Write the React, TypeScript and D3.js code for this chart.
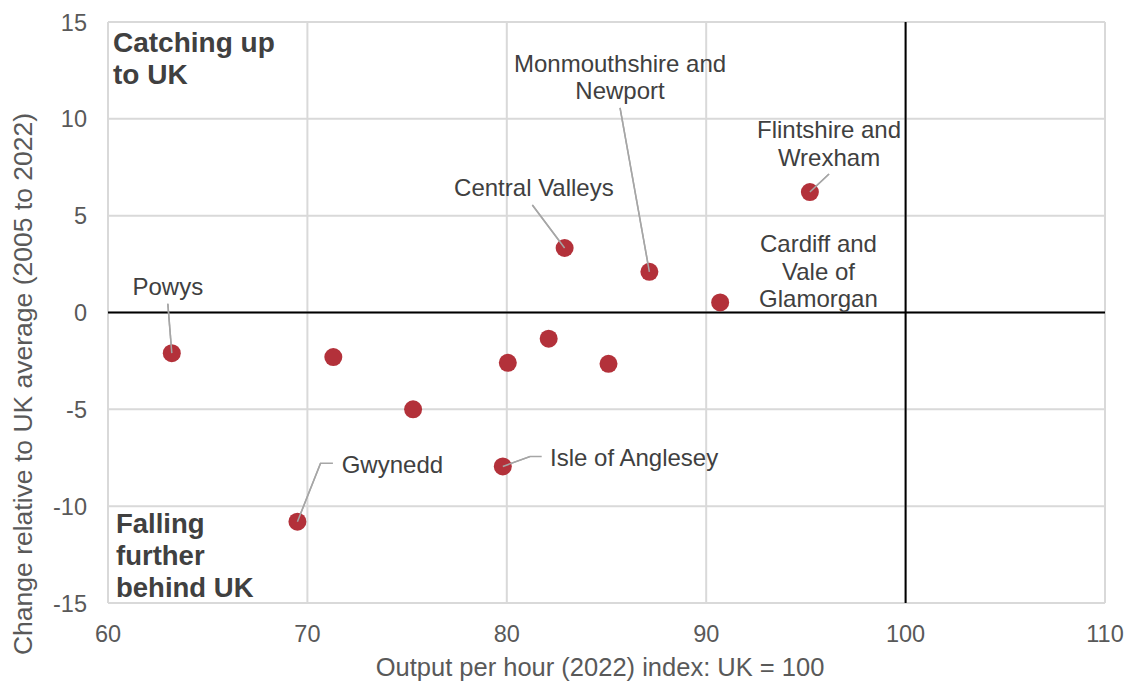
import React from "react";
import * as d3 from "d3";

const outputPerHour = [63.2, 71.3, 75.3, 69.5, 80.05, 79.8, 82.1, 85.1, 82.9, 87.15, 90.7, 95.2];
const changeRel = [-2.1, -2.3, -5.0, -10.8, -2.6, -7.95, -1.35, -2.65, 3.33, 2.1, 0.52, 6.22];
const xTicks = [60, 70, 80, 90, 100, 110];
const yTicks = [15, 10, 5, 0, -5, -10, -15];

type Lbl = { i: number; lines: string[]; lx: number; ly: number; anchor: string; leader?: [number, number][] };
const labels: Lbl[] = [
  { i: 0, lines: ["Powys"], lx: 63.0, ly: 0.88, anchor: "middle", leader: [[63.0, 0.45], [63.2, -2.1]] },
  { i: 3, lines: ["Gwynedd"], lx: 71.72, ly: -8.31, anchor: "start", leader: [[71.28, -7.78], [70.66, -7.78], [69.5, -10.8]] },
  { i: 5, lines: ["Isle of Anglesey"], lx: 82.17, ly: -7.95, anchor: "start", leader: [[81.75, -7.44], [81.16, -7.44], [79.8, -7.95]] },
  { i: 8, lines: ["Central Valleys"], lx: 81.36, ly: 5.99, anchor: "middle", leader: [[81.28, 5.55], [82.9, 3.33]] },
  { i: 9, lines: ["Monmouthshire and", "Newport"], lx: 85.68, ly: 12.44, anchor: "middle", leader: [[85.68, 10.56], [87.15, 2.1]] },
  { i: 10, lines: ["Cardiff and", "Vale of", "Glamorgan"], lx: 95.63, ly: 3.1, anchor: "middle" },
  { i: 11, lines: ["Flintshire and", "Wrexham"], lx: 96.16, ly: 8.99, anchor: "middle", leader: [[96.16, 7.15], [95.2, 6.22]] },
];

const W = 1130, H = 682;
const M = { left: 108, right: 1105, top: 22, bottom: 603 };

export default function App() {
  const x = d3.scaleLinear().domain([60, 110]).range([M.left, M.right]);
  const y = d3.scaleLinear().domain([-15, 15]).range([M.bottom, M.top]);
  const line = d3.line<[number, number]>().x(d => x(d[0])).y(d => y(d[1]));
  const font = "'Liberation Sans', Arial, sans-serif";
  const lineH = 27.5;
  return (
    <svg width={W} height={H} style={{ position: "absolute", left: 0, top: 0, fontFamily: font }}>
      <rect width={W} height={H} fill="#fff" />
      {xTicks.map(t => (
        <line key={"gx" + t} x1={x(t)} x2={x(t)} y1={M.top} y2={M.bottom} stroke="#d9d9d9" strokeWidth={2} />
      ))}
      {yTicks.map(t => (
        <line key={"gy" + t} x1={M.left} x2={M.right} y1={y(t)} y2={y(t)} stroke="#d9d9d9" strokeWidth={2} />
      ))}
      <line x1={M.left} x2={M.right} y1={y(0)} y2={y(0)} stroke="#000" strokeWidth={2} />
      <line x1={x(100)} x2={x(100)} y1={M.top} y2={M.bottom} stroke="#000" strokeWidth={2} />
      {xTicks.map(t => (
        <text key={"tx" + t} x={x(t)} y={M.bottom + 39} textAnchor="middle" fontSize={23.5} fill="#595959">{t}</text>
      ))}
      {yTicks.map(t => (
        <text key={"ty" + t} x={M.left - 21} y={y(t) + 8.5} textAnchor="end" fontSize={23.5} fill="#595959">{t}</text>
      ))}
      <text x={600} y={676} textAnchor="middle" fontSize={25.5} fill="#595959">Output per hour (2022) index: UK = 100</text>
      <text transform={`translate(32,384) rotate(-90)`} textAnchor="middle" fontSize={26.5} fill="#595959">Change relative to UK average (2005 to 2022)</text>
      <text x={113} y={52} fontSize={28} fontWeight="bold" fill="#404040">
        <tspan x={113} dy={0}>Catching up</tspan>
        <tspan x={113} dy={32}>to UK</tspan>
      </text>
      <text x={116} y={533} fontSize={27.5} fontWeight="bold" fill="#404040">
        <tspan x={116} dy={0}>Falling</tspan>
        <tspan x={116} dy={32}>further</tspan>
        <tspan x={116} dy={32}>behind UK</tspan>
      </text>
      {labels.filter(l => l.leader).map(l => (
        <path key={"ld" + l.i} d={line(l.leader!) || ""} fill="none" stroke="#a6a6a6" strokeWidth={1.5} />
      ))}
      {outputPerHour.map((v, i) => (
        <circle key={"pt" + i} cx={x(v)} cy={y(changeRel[i])} r={9} fill="#b3313a" />
      ))}
      {labels.filter(l => l.leader).map(l => {
        const pts = l.leader!;
        const a = pts[pts.length - 2], b = pts[pts.length - 1];
        return <line key={"ldt" + l.i} x1={x(a[0])} y1={y(a[1])} x2={x(b[0])} y2={y(b[1])} stroke="#a6a6a6" strokeWidth={1.5} />;
      })}
      {labels.map(l => (
        <text key={"lb" + l.i} x={x(l.lx)} y={y(l.ly)} textAnchor={l.anchor} fontSize={24} fill="#404040">
          {l.lines.map((s, k) => (
            <tspan key={k} x={x(l.lx)} dy={k === 0 ? 0 : lineH}>{s}</tspan>
          ))}
        </text>
      ))}
    </svg>
  );
}
